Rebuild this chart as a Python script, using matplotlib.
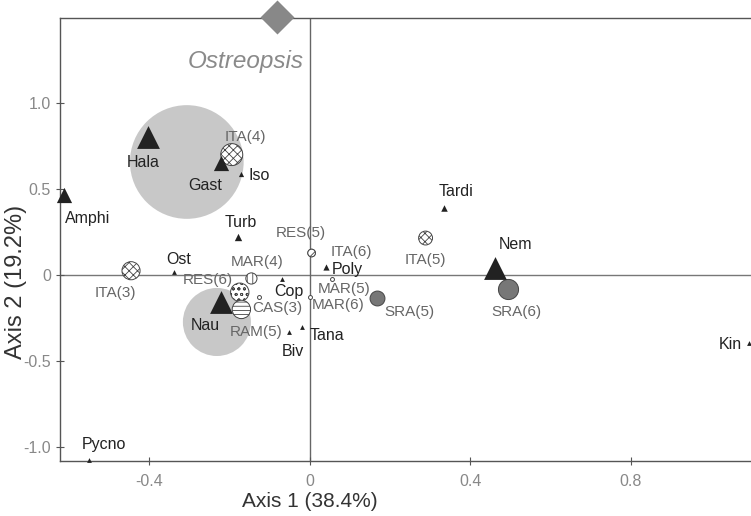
import matplotlib
matplotlib.use('agg')
import matplotlib.pyplot as plt
from matplotlib import font_manager

# taxa (black triangles)
taxa = ["Hala", "Gast", "Iso", "Amphi", "Turb", "Ost", "Nau", "Cop", "Biv",
        "Tana", "Poly", "Tardi", "Nem", "Kin", "Pycno"]
taxa_x = [-0.403, -0.221, -0.172, -0.612, -0.179, -0.338, -0.221, -0.070, -0.052,
          -0.020, 0.040, 0.336, 0.463, 1.095, -0.550]
taxa_y = [0.80, 0.65, 0.59, 0.465, 0.22, 0.017, -0.157, -0.023, -0.33,
          -0.30, 0.047, 0.39, 0.04, -0.395, -1.075]

# sampling sites (circles)
sites = ["ITA(4)", "ITA(3)", "RES(5)", "ITA(6)", "MAR(4)", "RES(6)", "RAM(5)",
         "CAS(3)", "MAR(5)", "MAR(6)", "SRA(5)", "SRA(6)", "ITA(5)"]
site_x = [-0.194, -0.445, 0.005, 0.005, -0.145, -0.174, -0.170,
          -0.127, 0.057, 0.000, 0.169, 0.495, 0.289]
site_y = [0.70, 0.025, 0.128, 0.128, -0.02, -0.10, -0.20,
          -0.13, -0.025, -0.13, -0.134, -0.08, 0.215]

# group clusters (grey discs)
group_x = [-0.306, -0.231]
group_y = [0.657, -0.273]

ostreopsis_x = -0.08
ostreopsis_y = 1.50

# ---- styles ----
taxa_size = {"Hala": 270, "Nau": 270, "Nem": 270, "Gast": 120, "Amphi": 120,
             "Turb": 28, "Tardi": 22, "Poly": 20, "Iso": 14}
taxa_off = {"Hala": (-5, -25), "Gast": (-16, -22), "Iso": (19, -2), "Amphi": (24, -23),
            "Turb": (3, 15), "Ost": (5, 13), "Nau": (-16, -23), "Cop": (7, -13),
            "Biv": (4, -20), "Tana": (25, -9), "Poly": (22, -3), "Tardi": (12, 16),
            "Nem": (20, 24), "Kin": (-19, -2), "Pycno": (15, 15)}
site_style = {
    "ITA(4)": dict(s=250, hatch='xxxx', fc='white'),
    "ITA(3)": dict(s=170, hatch='xxxx', fc='white'),
    "RES(5)": dict(s=30, hatch='xx', fc='white'),
    "ITA(6)": dict(s=30, hatch='xx', fc='white'),
    "MAR(4)": dict(s=65, hatch='|||', fc='white'),
    "RES(6)": dict(s=175, hatch='ooo', fc='white'),
    "RAM(5)": dict(s=175, hatch='----', fc='white'),
    "CAS(3)": dict(s=8, hatch=None, fc='white'),
    "MAR(5)": dict(s=8, hatch=None, fc='white'),
    "MAR(6)": dict(s=8, hatch=None, fc='white'),
    "SRA(5)": dict(s=115, hatch=None, fc='#777777'),
    "SRA(6)": dict(s=210, hatch=None, fc='#777777'),
    "ITA(5)": dict(s=100, hatch='xxxx', fc='white'),
}
site_off = {"ITA(4)": (14, 18), "ITA(3)": (-16, -22), "RES(5)": (-11, 20),
            "ITA(6)": (40, 1), "MAR(4)": (6, 16), "RES(6)": (-32, 12),
            "RAM(5)": (15, -23), "CAS(3)": (19, -11), "MAR(5)": (12, -10),
            "MAR(6)": (29, -8), "SRA(5)": (32, -14), "SRA(6)": (8, -23),
            "ITA(5)": (0, -22)}

installed = {f.name for f in font_manager.fontManager.ttflist}
narrow = 'Liberation Sans Narrow' if 'Liberation Sans Narrow' in installed else 'Liberation Sans'
plt.rcParams['font.family'] = ['Liberation Sans', 'DejaVu Sans']
plt.rcParams['hatch.linewidth'] = 0.6

fig = plt.figure(figsize=(7.51, 5.16), dpi=100)
ax = fig.add_axes([60 / 751, 1 - 461 / 516, 1 - 60 / 751, (461 - 18) / 516])
ax.set_xlim(-0.622, 1.10)
ax.set_ylim(-1.081, 1.494)

ax.axhline(0, color='#777777', lw=1, zorder=1)
ax.axvline(0, color='#666666', lw=1, zorder=1)

ax.scatter(group_x, group_y, s=[6700, 2400], c='#c8c8c8', lw=0, zorder=2)

ax.scatter([ostreopsis_x], [ostreopsis_y], s=300, marker='D', c='#888888',
           lw=0, clip_on=False, zorder=6)
ax.text(ostreopsis_x - 0.08, 1.24, "Ostreopsis", style='italic', fontsize=17.5,
        color='#8a8a8a', ha='center', va='center')

for name, x, y in zip(sites, site_x, site_y):
    st = site_style[name]
    ax.scatter([x], [y], s=st['s'], facecolor=st['fc'], edgecolor='#444444',
               hatch=st['hatch'], lw=0.7, zorder=4)
    ax.annotate(name, (x, y), xytext=site_off[name], textcoords='offset pixels',
                ha='center', va='center', fontsize=11, color='#666666',
                family=[narrow, 'DejaVu Sans'])

for name, x, y in zip(taxa, taxa_x, taxa_y):
    ax.scatter([x], [y], s=taxa_size.get(name, 12), marker='^', c='#222222',
               lw=0, zorder=5, clip_on=False)
    ax.annotate(name, (x, y), xytext=taxa_off[name], textcoords='offset pixels',
                ha='center', va='center', fontsize=11.5, color='#222222')

ax.set_xticks([-0.4, 0, 0.4, 0.8])
ax.set_xticklabels(["-0.4", "0", "0.4", "0.8"])
ax.set_yticks([-1.0, -0.5, 0, 0.5, 1.0])
ax.set_yticklabels(["-1.0", "-0.5", "0", "0.5", "1.0"])
ax.tick_params(direction='inout', length=6, width=0.8, color='#555555',
               labelcolor='#888888', labelsize=11.5)
ax.tick_params(axis='x', pad=6)
for lab in ax.get_xticklabels() + ax.get_yticklabels():
    lab.set_family([narrow, 'DejaVu Sans'])

for side in ['left', 'bottom', 'top']:
    ax.spines[side].set_color('#555555')
    ax.spines[side].set_linewidth(1)
ax.spines['right'].set_visible(False)

ax.set_xlabel("Axis 1 (38.4%)", fontsize=15, color='#333333')
ax.set_ylabel("Axis 2 (19.2%)", fontsize=17, color='#333333')
ax.xaxis.set_label_coords((310 - 60) / 691, -(492 - 461) / 443)
ax.yaxis.set_label_coords(-(60 - 27) / 691, (461 - 282) / 443)

fig.savefig("out.png", dpi=100)
